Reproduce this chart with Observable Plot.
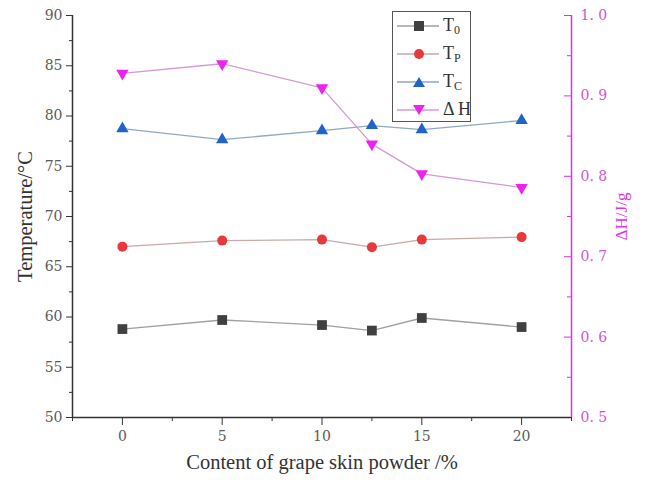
<!DOCTYPE html>
<html><head><meta charset="utf-8">
<script src="https://cdn.jsdelivr.net/npm/d3@7"></script>
<script src="https://cdn.jsdelivr.net/npm/@observablehq/plot@0.6"></script>
<style>
body{margin:0;background:#fff;}
#wrap{position:relative;width:649px;height:483px;font-family:"Liberation Serif",serif;}
.legend{position:absolute;left:392px;top:11px;width:79px;height:111px;border:1px solid #555;background:#fff;box-sizing:border-box;}
.row{position:absolute;left:2px;height:20px;width:76px;}
.row svg{position:absolute;left:0;top:0;}
.row span{position:absolute;left:48px;top:-1px;font-size:18px;color:#333;line-height:20px;white-space:nowrap;}
.row sub{font-size:12px;vertical-align:-3px;}
</style>
</head><body>
<div id="wrap"></div>
<script>
const content = [0, 5, 10, 12.5, 15, 20];
const T0 = [58.8, 59.7, 59.2, 58.65, 59.9, 59.0];
const Tp = [67.0, 67.6, 67.7, 66.95, 67.7, 67.95];
const Tc = [78.75, 77.65, 78.55, 79.05, 78.65, 79.55];
const dH = [0.928, 0.940, 0.910, 0.840, 0.803, 0.786];
const xTicks = [0, 5, 10, 15, 20];
const xMinor = [-2.5, 2.5, 7.5, 12.5, 17.5, 22.5];
const tTicks = [50, 55, 60, 65, 70, 75, 80, 85, 90];
const tMinor = [52.5, 57.5, 62.5, 67.5, 72.5, 77.5, 82.5, 87.5];
const hTicks = [0.5, 0.6, 0.7, 0.8, 0.9, 1.0];
const hMinor = [0.55, 0.65, 0.75, 0.85, 0.95];

const MAG = "#dd33dd";
const TICKFONT = "DejaVu Serif, serif";
const TITLEFONT = "Liberation Serif, serif";
const toT = h => 50 + (h - 0.5) * 80;
const rows = content.map((c, i) => ({c, T0: T0[i], Tp: Tp[i], Tc: Tc[i], dH: toT(dH[i])}));
const series = [
  {key: "T0", line: "#a0a0a0", fill: "#404040", symbol: "square", r: 5.5, rotate: 0},
  {key: "Tp", line: "#c9a9a9", fill: "#e8383c", symbol: "circle", r: 5, rotate: 0},
  {key: "Tc", line: "#8fa9bf", fill: "#2164c8", symbol: "triangle", r: 4.6, rotate: 0},
  {key: "dH", line: "#d598d5", fill: "#ee22ee", symbol: "triangle", r: 4.6, rotate: 180}
];

const marks = [
  Plot.axisX(xTicks, {tickSize: 8, tickPadding: 6, stroke: "#333", fill: "#5a5a5a", label: null, fontFamily: TICKFONT}),
  Plot.axisX(xMinor, {tickSize: 4, tickFormat: () => "", stroke: "#333", label: null}),
  Plot.axisY(tTicks, {anchor: "left", tickSize: 6, tickPadding: 4, stroke: "#333", fill: "#5a5a5a", label: null, fontFamily: TICKFONT}),
  Plot.axisY(tMinor, {anchor: "left", tickSize: 3, tickFormat: () => "", stroke: "#333", label: null}),
  // right axis: labels outside, ticks pointing inward
  Plot.axisY(hTicks.map(toT), {anchor: "right", tickSize: 0, tickPadding: 9, stroke: "none", fill: "#d055d0", label: null, fontFamily: TICKFONT,
    tickFormat: t => ((t - 50) / 80 + 0.5).toFixed(1).replace(".", ". ")}),
  Plot.axisY(hTicks.map(toT), {anchor: "left", frameAnchor: "right", tickSize: 7, tickFormat: () => "", stroke: MAG, label: null}),
  Plot.axisY(hMinor.map(toT), {anchor: "left", frameAnchor: "right", tickSize: 4, tickFormat: () => "", stroke: MAG, label: null}),
  Plot.ruleX([-2.5], {stroke: "#333", strokeWidth: 1.5}),
  Plot.ruleY([50], {stroke: "#333", strokeWidth: 1.5}),
  Plot.ruleX([22.5], {stroke: MAG, strokeWidth: 1.5}),
  Plot.text(["Content of grape skin powder /%"], {frameAnchor: "bottom", dy: 51, fontSize: 20.5, fontFamily: TITLEFONT, fill: "#333", text: d => d}),
  Plot.text(["Temperature/°C"], {frameAnchor: "left", dx: -47, rotate: -90, textAnchor: "middle", fontSize: 20.5, fontFamily: TITLEFONT, fill: "#333", text: d => d}),
  Plot.text(["ΔH/J/g"], {frameAnchor: "right", dx: 50, rotate: -90, textAnchor: "middle", fontSize: 17, fontFamily: TITLEFONT, fill: MAG, text: d => d})
];
for (const s of series) {
  marks.push(Plot.line(rows, {x: "c", y: s.key, stroke: s.line, strokeWidth: 1.3}));
}
for (const s of series) {
  marks.push(Plot.dot(rows, {x: "c", y: s.key, symbol: s.symbol, r: s.r, fill: s.fill, stroke: "none", rotate: s.rotate}));
}

const chart = Plot.plot({
  width: 649, height: 483,
  marginTop: 15, marginRight: 78, marginBottom: 66, marginLeft: 72,
  style: {fontFamily: TICKFONT, fontSize: "14px", background: "white", overflow: "visible"},
  x: {domain: [-2.5, 22.5]},
  y: {domain: [50, 90]},
  marks
});
const wrap = document.getElementById("wrap");
wrap.appendChild(chart);

// legend
const legendItems = [
  {label: "T<sub>0</sub>", s: series[0]},
  {label: "T<sub>P</sub>", s: series[1]},
  {label: "T<sub>C</sub>", s: series[2]},
  {label: "Δ H", s: series[3]}
];
const leg = document.createElement("div");
leg.className = "legend";
legendItems.forEach((it, i) => {
  const row = document.createElement("div");
  row.className = "row";
  row.style.top = (4 + 28 * i) + "px";
  const s = it.s;
  let marker;
  if (s.symbol === "square") marker = `<rect x="19" y="5" width="10" height="10" fill="${s.fill}"/>`;
  else if (s.symbol === "circle") marker = `<circle cx="24" cy="10" r="5" fill="${s.fill}"/>`;
  else if (s.rotate) marker = `<path d="M18,5 L30,5 L24,15 Z" fill="${s.fill}"/>`;
  else marker = `<path d="M18,15 L30,15 L24,5 Z" fill="${s.fill}"/>`;
  row.innerHTML = `<svg width="46" height="20"><line x1="2" x2="44" y1="10" y2="10" stroke="${s.line}" stroke-width="1.3"/>${marker}</svg><span>${it.label}</span>`;
  leg.appendChild(row);
});
wrap.appendChild(leg);
</script>
</body></html>
